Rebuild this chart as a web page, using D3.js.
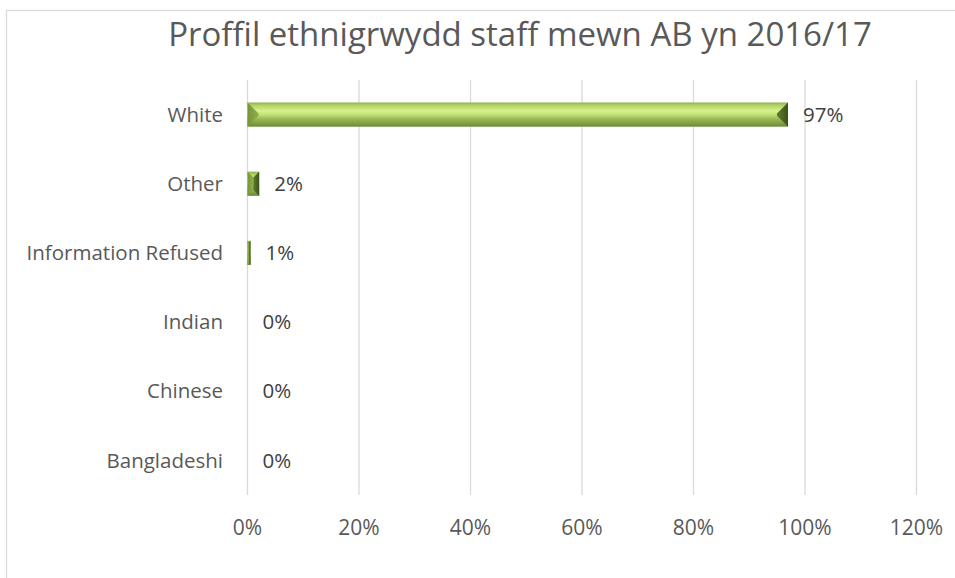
<!DOCTYPE html>
<html>
<head>
<meta charset="utf-8">
<script src="https://cdn.jsdelivr.net/npm/d3@7"></script>
<style>
  html, body { margin: 0; padding: 0; background: #ffffff; }
  svg { display: block; }
</style>
</head>
<body>
<svg id="chart" width="955" height="578"></svg>
<script>
const title = "Proffil ethnigrwydd staff mewn AB yn 2016/17";
const categories = ["White", "Other", "Information Refused", "Indian", "Chinese", "Bangladeshi"];
const values = [0.9695, 0.021, 0.0055, 0, 0, 0];
const valueLabels = ["97%", "2%", "1%", "0%", "0%", "0%"];
const ticks = [0, 0.2, 0.4, 0.6, 0.8, 1.0, 1.2];
const tickLabels = ["0%", "20%", "40%", "60%", "80%", "100%", "120%"];

const FONT = "'Open Sans', sans-serif";
const svg = d3.select("#chart");

// chart frame (cropped at right and bottom)
svg.append("rect")
  .attr("x", 6.5).attr("y", 10.5)
  .attr("width", 1000).attr("height", 600)
  .attr("fill", "#fff").attr("stroke", "#d9d9d9").attr("stroke-width", 1.3);

const plot = { left: 247.5, right: 916.5, top: 80, bottom: 495 };

const x = d3.scaleLinear().domain([0, 1.2]).range([plot.left, plot.right]);
const y = d3.scaleBand().domain(categories).range([plot.top, plot.bottom]).paddingInner(0.65).paddingOuter(0.325);

// defs: gradients
const defs = svg.append("defs");
const g1 = defs.append("linearGradient").attr("id", "barGrad").attr("x1", 0).attr("y1", 0).attr("x2", 0).attr("y2", 1);
[[0, "#8fb04a"], [0.12, "#b3d366"], [0.35, "#d6f28d"], [0.5, "#c4e178"], [0.7, "#97b652"], [0.88, "#7f9d40"], [1, "#6a8735"]]
  .forEach(([o, c]) => g1.append("stop").attr("offset", o).attr("stop-color", c));
const gL = defs.append("linearGradient").attr("id", "leftGrad").attr("x1", 0).attr("y1", 0).attr("x2", 1).attr("y2", 0);
[[0, "#76953a"], [1, "#8fae4b"]].forEach(([o, c]) => gL.append("stop").attr("offset", o).attr("stop-color", c));
const gR = defs.append("linearGradient").attr("id", "rightGrad").attr("x1", 0).attr("y1", 0).attr("x2", 1).attr("y2", 0);
[[0, "#5f7d2c"], [1, "#3b521a"]].forEach(([o, c]) => gR.append("stop").attr("offset", o).attr("stop-color", c));

// gridlines
svg.append("g").selectAll("line").data(ticks).join("line")
  .attr("x1", d => x(d)).attr("x2", d => x(d))
  .attr("y1", plot.top).attr("y2", plot.bottom)
  .attr("stroke", "#d9d9d9").attr("stroke-width", 1.3);

// x tick labels
svg.append("g").selectAll("text").data(ticks).join("text")
  .attr("x", d => x(d)).attr("y", 535)
  .attr("text-anchor", "middle")
  .attr("font-family", FONT).attr("font-size", 21).attr("fill", "#595959")
  .text((d, i) => tickLabels[i]);

// category labels
svg.append("g").selectAll("text").data(categories).join("text")
  .attr("x", 223).attr("y", d => y(d) + y.bandwidth() / 2)
  .attr("dy", "0.35em")
  .attr("text-anchor", "end")
  .attr("font-family", FONT).attr("font-size", 20.5).attr("fill", "#595959")
  .text(d => d);

// bars with bevel
const bars = svg.append("g");
categories.forEach((c, i) => {
  const v = values[i];
  if (v <= 0) return;
  const x0 = x(0), x1 = x(v), y0 = y(c), y1 = y(c) + y.bandwidth();
  const w = x1 - x0, h = y1 - y0;
  const b = Math.min(11, w / 2, h / 2);
  const g = bars.append("g");
  g.append("rect").attr("x", x0).attr("y", y0).attr("width", w).attr("height", h).attr("fill", "url(#barGrad)");
  g.append("polygon")
    .attr("points", [[x0, y0], [x0 + b, y0 + b], [x0 + b, y1 - b], [x0, y1]].map(p => p.join(",")).join(" "))
    .attr("fill", "url(#leftGrad)");
  g.append("polygon")
    .attr("points", [[x1, y0], [x1 - b, y0 + b], [x1 - b, y1 - b], [x1, y1]].map(p => p.join(",")).join(" "))
    .attr("fill", "url(#rightGrad)");
});

// value labels
svg.append("g").selectAll("text").data(categories).join("text")
  .attr("x", (d, i) => x(values[i]) + 15)
  .attr("y", d => y(d) + y.bandwidth() / 2)
  .attr("dy", "0.35em")
  .attr("font-family", FONT).attr("font-size", 20.5).attr("fill", "#404040")
  .text((d, i) => valueLabels[i]);

// title
svg.append("text")
  .attr("x", 520).attr("y", 46)
  .attr("text-anchor", "middle")
  .attr("font-family", FONT).attr("font-size", 33).attr("fill", "#595959")
  .text(title);
</script>
</body>
</html>
